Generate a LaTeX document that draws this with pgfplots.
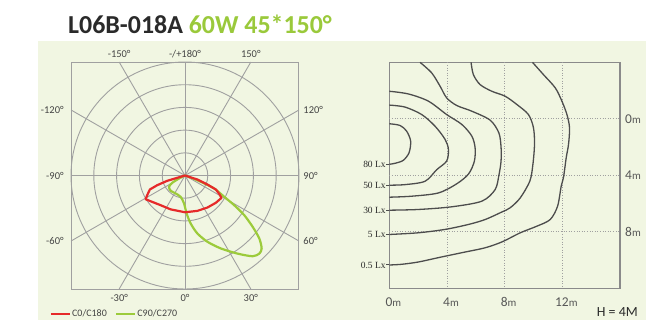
\documentclass[border=0pt]{standalone}
\usepackage{pgfplots}
\pgfplotsset{compat=1.18}
\usepackage{pgfplotstable}
\usepackage{fontspec}
\setmainfont{Carlito}
\newfontfamily\lxfont{Liberation Serif}

\definecolor{panel}{HTML}{F1F6E2}
\definecolor{ttlgreen}{HTML}{9AC93B}
\definecolor{ttldark}{HTML}{2A2A2A}
\definecolor{c0red}{HTML}{E62A2A}
\definecolor{c90green}{HTML}{9CCB3B}
\definecolor{gridgray}{HTML}{A0A0A0}
\definecolor{boxgray}{HTML}{8A8A8A}
\definecolor{isoline}{HTML}{4D4D4D}
\definecolor{lbl}{HTML}{444444}

% polar intensity curves: t = angle (0 down, 90 right), r = rings
\pgfplotstableread{
t r
0 0
-73.3 0.81
-70.7 1.29
-68.2 1.66
-62.4 1.87
-58.9 2.02
-53.2 1.89
-39.3 1.69
-22.8 1.62
0 1.62
19.2 1.65
34.9 1.72
48.4 1.81
58.4 1.88
61.4 1.72
65.5 1.49
68 1.06
72 0.57
0 0
}\redtab

\pgfplotstableread{
t r
0 0
-63.4 0.3
-60 0.64
-54.8 0.86
-43 0.92
-27.3 0.89
-11.5 0.96
-2 1.23
2.5 1.68
6.7 2.13
12 2.61
18.6 3.08
26.1 3.58
33.8 4.14
39.8 4.63
43.5 4.74
46.3 4.65
49.6 4.28
52.7 3.73
56.1 3.13
58.8 2.52
61.4 1.96
65.9 1.4
68.1 0.75
70 0.27
0 0
}\greentab

% isolux lines, x and y in metres
\pgfplotstableread{
x y
0 0.35
0.74 0.47
1.2 0.87
1.48 1.58
1.37 2.4
0.97 2.94
0.4 3.15
0 3.22
}\isoA
\pgfplotstableread{
x y
0 -0.97
1.09 -0.83
2.25 -0.3
3.17 0.52
3.87 1.46
4.1 2.16
3.98 2.99
3.29 3.6
2.48 4.42
1.09 4.66
0 4.7
}\isoB
\pgfplotstableread{
x y
0 -1.95
1.32 -1.76
2.71 -1.25
3.98 -0.3
5.03 0.4
5.72 1.22
5.95 2.05
5.9 3.0
5.5 3.9
4.68 4.6
3.4 5.25
1.55 5.48
0 5.55
}\isoC
\pgfplotstableread{
x y
2.13 -4
2.94 -3.25
3.52 -2.31
3.98 -1.48
4.68 -0.94
5.72 -0.54
7.0 0.1
7.6 1.0
7.75 2.0
7.75 3.0
7.6 4.0
7.34 5.01
6.42 5.83
4.33 6.23
2.01 6.42
0 6.47
}\isoD
\pgfplotstableread{
x y
5.67 -4
5.83 -3.13
6.3 -2.42
7.11 -1.95
8.03 -1.6
8.85 -1.01
9.65 -0.3
10.0 0.64
10.07 1.81
9.96 3.22
9.75 4.4
9.08 5.6
8.38 6.3
7.8 6.6
6.65 7.13
5.49 7.48
3.87 7.83
2.01 8.07
0 8.19
}\isoE
\pgfplotstableread{
x y
9.93 -4
10.69 -3.13
11.51 -2.19
11.97 -1.25
12.32 -0.3
12.5 0.64
12.43 1.81
12.27 2.75
12.08 4.16
11.92 4.78
11.67 6.19
11.16 7.13
10.24 7.6
9.08 8.07
7.85 8.7
6.65 9.13
5.03 9.48
3.4 9.83
2.01 10.14
0.86 10.3
0 10.35
}\isoF

\begin{document}
\begin{tikzpicture}
\useasboundingbox (0,0) rectangle (646bp,320bp);
\fill[panel] (38bp,0) rectangle (646bp,279bp);
\node[anchor=base west, inner sep=0, font=\fontsize{26}{26}\bfseries\selectfont]
  at (68bp,286.7bp) {\textcolor{ttldark}{L06B-018A} \textcolor{ttlgreen}{60W 45*150°}};

% ---------- polar diagram ----------
\begin{axis}[
  at={(71bp,31bp)}, anchor=south west,
  scale only axis, width=228bp, height=227bp,
  xmin=-5, xmax=5, ymin=-5, ymax=5,
  axis line style={gridgray, line width=1bp},
  xtick=\empty, ytick=\empty,
  clip=false,
  legend columns=2,
  legend style={draw=none, fill=none, at={(-0.094,-0.111)}, anchor=west,
    inner sep=0pt, font=\fontsize{10}{10}\selectfont, text=lbl,
    nodes={inner sep=1.2bp},
    /tikz/every even column/.append style={column sep=7bp}},
  legend image code/.code={\draw[#1] (0bp,0bp) -- (19bp,0bp);},
  reverse legend,
]
\pgfplotsinvokeforeach{1,...,5}{
  \draw[gridgray, line width=0.9bp] (axis cs:0,0) circle[radius=#1];}
\draw[gridgray, line width=0.9bp] (axis cs:0,-5) -- (axis cs:0,5);
\draw[gridgray, line width=0.9bp] (axis cs:-5,0) -- (axis cs:5,0);
\draw[gridgray, line width=0.9bp] (axis cs:-2.887,5) -- (axis cs:2.887,-5);
\draw[gridgray, line width=0.9bp] (axis cs:2.887,5) -- (axis cs:-2.887,-5);
\draw[gridgray, line width=0.9bp] (axis cs:-5,2.887) -- (axis cs:5,-2.887);
\draw[gridgray, line width=0.9bp] (axis cs:-5,-2.887) -- (axis cs:5,2.887);

\addplot[c90green, line width=2.2bp, smooth, tension=0.45, data cs=polar]
  table[x expr=\thisrow{t}-90, y=r] {\greentab};
\addplot[c0red, line width=2.2bp, line join=round, data cs=polar]
  table[x expr=\thisrow{t}-90, y=r] {\redtab};
\legend{C90/C270, C0/C180}

\tikzset{plbl/.style={font=\fontsize{10.5}{10.5}\selectfont, text=lbl, inner sep=0}}
\node[plbl, anchor=base, yshift=4.7bp] at (axis cs:-2.887,5) {-150°};
\node[plbl, anchor=base, yshift=4.7bp] at (axis cs:0,5) {-/+180°};
\node[plbl, anchor=base, yshift=4.7bp] at (axis cs:2.887,5) {150°};
\node[plbl, anchor=base, yshift=-12.9bp] at (axis cs:-2.887,-5) {-30°};
\node[plbl, anchor=base, yshift=-12.9bp] at (axis cs:0,-5) {0°};
\node[plbl, anchor=base, yshift=-12.9bp] at (axis cs:2.887,-5) {30°};
\node[plbl, anchor=east, xshift=-7.2bp] at (axis cs:-5,2.887) {-120°};
\node[plbl, anchor=east, xshift=-7.2bp] at (axis cs:-5,0) {-90°};
\node[plbl, anchor=east, xshift=-7.2bp] at (axis cs:-5,-2.887) {-60°};
\node[plbl, anchor=west, xshift=4.3bp] at (axis cs:5,2.887) {120°};
\node[plbl, anchor=west, xshift=4.3bp] at (axis cs:5,0) {90°};
\node[plbl, anchor=west, xshift=4.3bp] at (axis cs:5,-2.887) {60°};
\end{axis}

% ---------- isolux diagram ----------
\begin{axis}[
  at={(389.3bp,31.7bp)}, anchor=south west,
  scale only axis, width=230.7bp, height=226bp,
  xmin=0, xmax=16, ymin=-4, ymax=12, y dir=reverse,
  axis line style={boxgray, line width=1.2bp},
  xtick=\empty,
  ytick={3.22,4.7,6.47,8.19,10.35},
  yticklabels={80 Lx,50 Lx,30 Lx,5 Lx,0.5 Lx},
  ytick pos=left, tick align=outside,
  major tick length=3bp,
  tick style={isoline, line width=1bp},
  yticklabel style={font=\lxfont\fontsize{9.5}{9.5}\selectfont, text=ttldark, inner sep=0.5bp},
  clip=false,
]
\pgfplotsinvokeforeach{4,8,12}{
  \draw[gridgray, line width=0.9bp, dash pattern=on 1bp off 1.6bp] (axis cs:#1,-4) -- (axis cs:#1,12);}
\pgfplotsinvokeforeach{0,4,8}{
  \draw[gridgray, line width=0.9bp, dash pattern=on 1bp off 1.6bp] (axis cs:0,#1) -- (axis cs:16,#1);}

\addplot[isoline, line width=1.3bp, smooth, tension=0.5] table {\isoA};
\addplot[isoline, line width=1.3bp, smooth, tension=0.5] table {\isoB};
\addplot[isoline, line width=1.3bp, smooth, tension=0.5] table {\isoC};
\addplot[isoline, line width=1.3bp, smooth, tension=0.5] table {\isoD};
\addplot[isoline, line width=1.3bp, smooth, tension=0.5] table {\isoE};
\addplot[isoline, line width=1.3bp, smooth, tension=0.5] table {\isoF};

\tikzset{mlbl/.style={font=\fontsize{13.5}{13.5}\selectfont, text=lbl!90, inner sep=0}}
\pgfplotsinvokeforeach{0,4,8}{
  \node[mlbl, anchor=west, xshift=5bp] at (axis cs:16,#1) {#1{\fontsize{11}{11}\selectfont m}};}
\pgfplotsinvokeforeach{0,4,8,12}{
  \node[mlbl, anchor=base, xshift=4bp, yshift=-18.4bp] at (axis cs:#1,12) {#1{\fontsize{11}{11}\selectfont m}};}
\end{axis}

\node[anchor=base east, inner sep=0, font=\fontsize{14}{14}\selectfont, text=ttldark]
  at (638bp,4bp) {H = 4M};
\end{tikzpicture}
\end{document}
